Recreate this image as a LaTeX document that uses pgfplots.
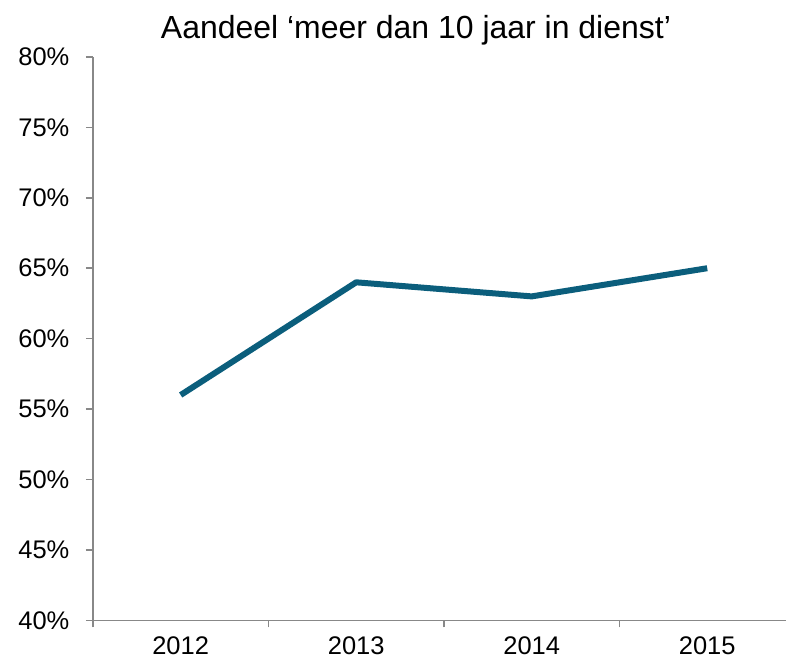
\documentclass[border=0pt]{standalone}
\usepackage{pgfplots}
\pgfplotsset{compat=1.18}
\usepackage{fontspec}
\setmainfont{Liberation Sans}
\definecolor{linec}{HTML}{0B5E7C}
\definecolor{axc}{HTML}{888888}
\begin{document}
\begin{tikzpicture}
\begin{axis}[
  scale only axis,
  width=694pt, height=564pt,
  xmin=-0.5, xmax=3.45,
  ymin=40, ymax=80,
  axis lines*=left,
  axis line style={axc, line width=1.6pt},
  xtick={0,1,2,3},
  xticklabels={2012,2013,2014,2015},
  minor xtick={-0.5,0.5,1.5,2.5},
  major x tick style={draw=none},
  minor x tick style={axc, line width=1.6pt},
  ytick={40,45,...,80},
  yticklabel={\pgfmathprintnumber{\tick}\%},
  y tick style={axc, line width=1.6pt},
  tick align=outside,
  major tick length=7pt,
  minor tick length=7pt,
  tick label style={font=\fontsize{25.5}{30}\selectfont},
  /pgf/number format/assume math mode=true,
  yticklabel style={xshift=-13pt},
  xticklabel style={inner sep=1pt, yshift=-8pt},
  clip=false,
]
\addplot[linec, line width=6pt, line join=round] coordinates {(0,56) (1,64) (2,63) (3,65)};
\node[anchor=base, font=\fontsize{32}{38}\selectfont] at (rel axis cs:0.466,1.032) {Aandeel ‘meer dan 10 jaar in dienst’};
\end{axis}
\useasboundingbox (-93pt,-43pt) rectangle (694pt,621pt);
\end{tikzpicture}
\end{document}
